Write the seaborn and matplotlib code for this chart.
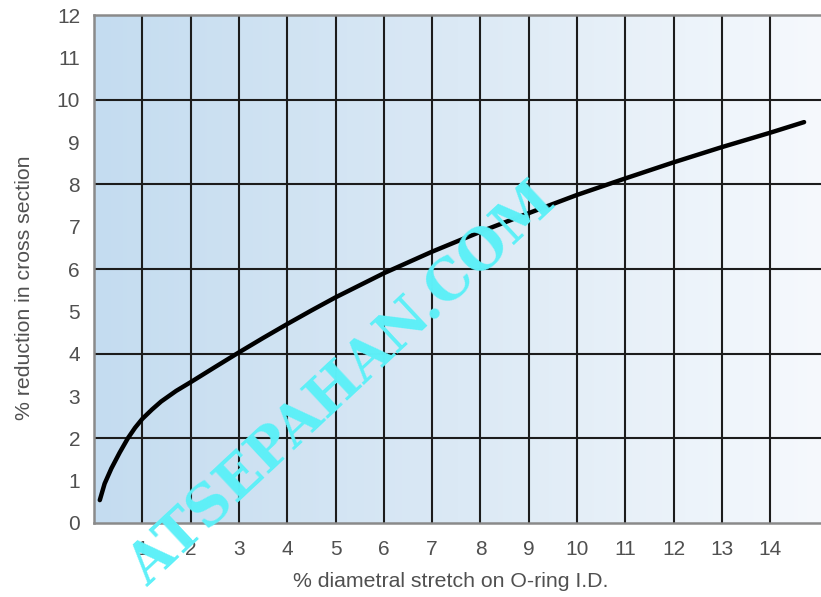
import numpy as np
import pandas as pd
import matplotlib
matplotlib.use("Agg")
import matplotlib.pyplot as plt
import seaborn as sns
from matplotlib.colors import LinearSegmentedColormap

# data
stretch = [0.12, 0.22, 0.36, 0.53, 0.70, 0.85, 1.0, 1.2, 1.39, 1.7, 2.02, 2.5, 3.0, 3.5,
           4, 4.5, 5, 6, 7, 8, 9, 10, 11, 12, 13, 14, 14.7]
reduction = [0.54, 0.93, 1.29, 1.66, 2.0, 2.25, 2.46, 2.68, 2.87, 3.12, 3.34, 3.68, 4.03,
             4.37, 4.70, 5.02, 5.33, 5.90, 6.41, 6.88, 7.32, 7.75, 8.14, 8.52, 8.88,
             9.22, 9.47]
x_ticks = list(range(1, 15))
y_ticks = list(range(0, 13))
y_grid = [2, 4, 6, 8, 10]

df = pd.DataFrame({"stretch": stretch, "reduction": reduction})

sns.set_theme(style="white")
plt.rcParams["font.family"] = ["Liberation Sans", "DejaVu Sans"]

fig = plt.figure(figsize=(8.21, 5.97), dpi=100)
ax = fig.add_axes([94 / 821, 1 - 523 / 597, 1 - 94 / 821, (523 - 15) / 597])

xmax = 15.05
ax.set_xlim(0, xmax)
ax.set_ylim(0, 12)

# background gradient
cmap = LinearSegmentedColormap.from_list("bg", ["#c4dcf0", "#dbe9f5", "#f6f9fd"])
grad = np.linspace(0, 1, 256).reshape(1, -1)
ax.imshow(grad, extent=[0, xmax, 0, 12], aspect="auto", cmap=cmap, zorder=0)

# grid
for xv in x_ticks:
    ax.axvline(xv, color="#1c1c1c", lw=1.5, zorder=1)
for yv in y_grid:
    ax.axhline(yv, color="#1c1c1c", lw=1.5, zorder=1)

# watermark
fig.text(342 / 821, 1 - 385 / 597, "ATSEPAHAN.COM", rotation=43, ha="center", va="center",
         fontsize=40, fontweight="bold", family="DejaVu Serif", color="#5ef0f8",
         zorder=2, rotation_mode="anchor")

sns.lineplot(data=df, x="stretch", y="reduction", ax=ax, color="black", lw=3.2,
             zorder=3, solid_capstyle="round", solid_joinstyle="round")

ax.set_xticks(x_ticks)
ax.set_yticks(y_ticks)
ax.tick_params(axis="both", length=0, labelsize=15, labelcolor="#505050")
ax.tick_params(axis="x", pad=12)
ax.tick_params(axis="y", pad=10)
ax.set_xlabel("% diametral stretch on O-ring I.D.", fontsize=15.3, color="#505050")
ax.set_ylabel("% reduction in cross section", fontsize=15.3, color="#505050")
ax.xaxis.set_label_coords(0.491, -0.097)
ax.yaxis.set_label_coords(-0.083, 0.463)

for s in ["left", "bottom", "top"]:
    ax.spines[s].set_color("#8a8a8a")
    ax.spines[s].set_linewidth(1.8)
    ax.spines[s].set_zorder(4)
ax.spines["right"].set_visible(False)

fig.savefig("out.png", dpi=100)
